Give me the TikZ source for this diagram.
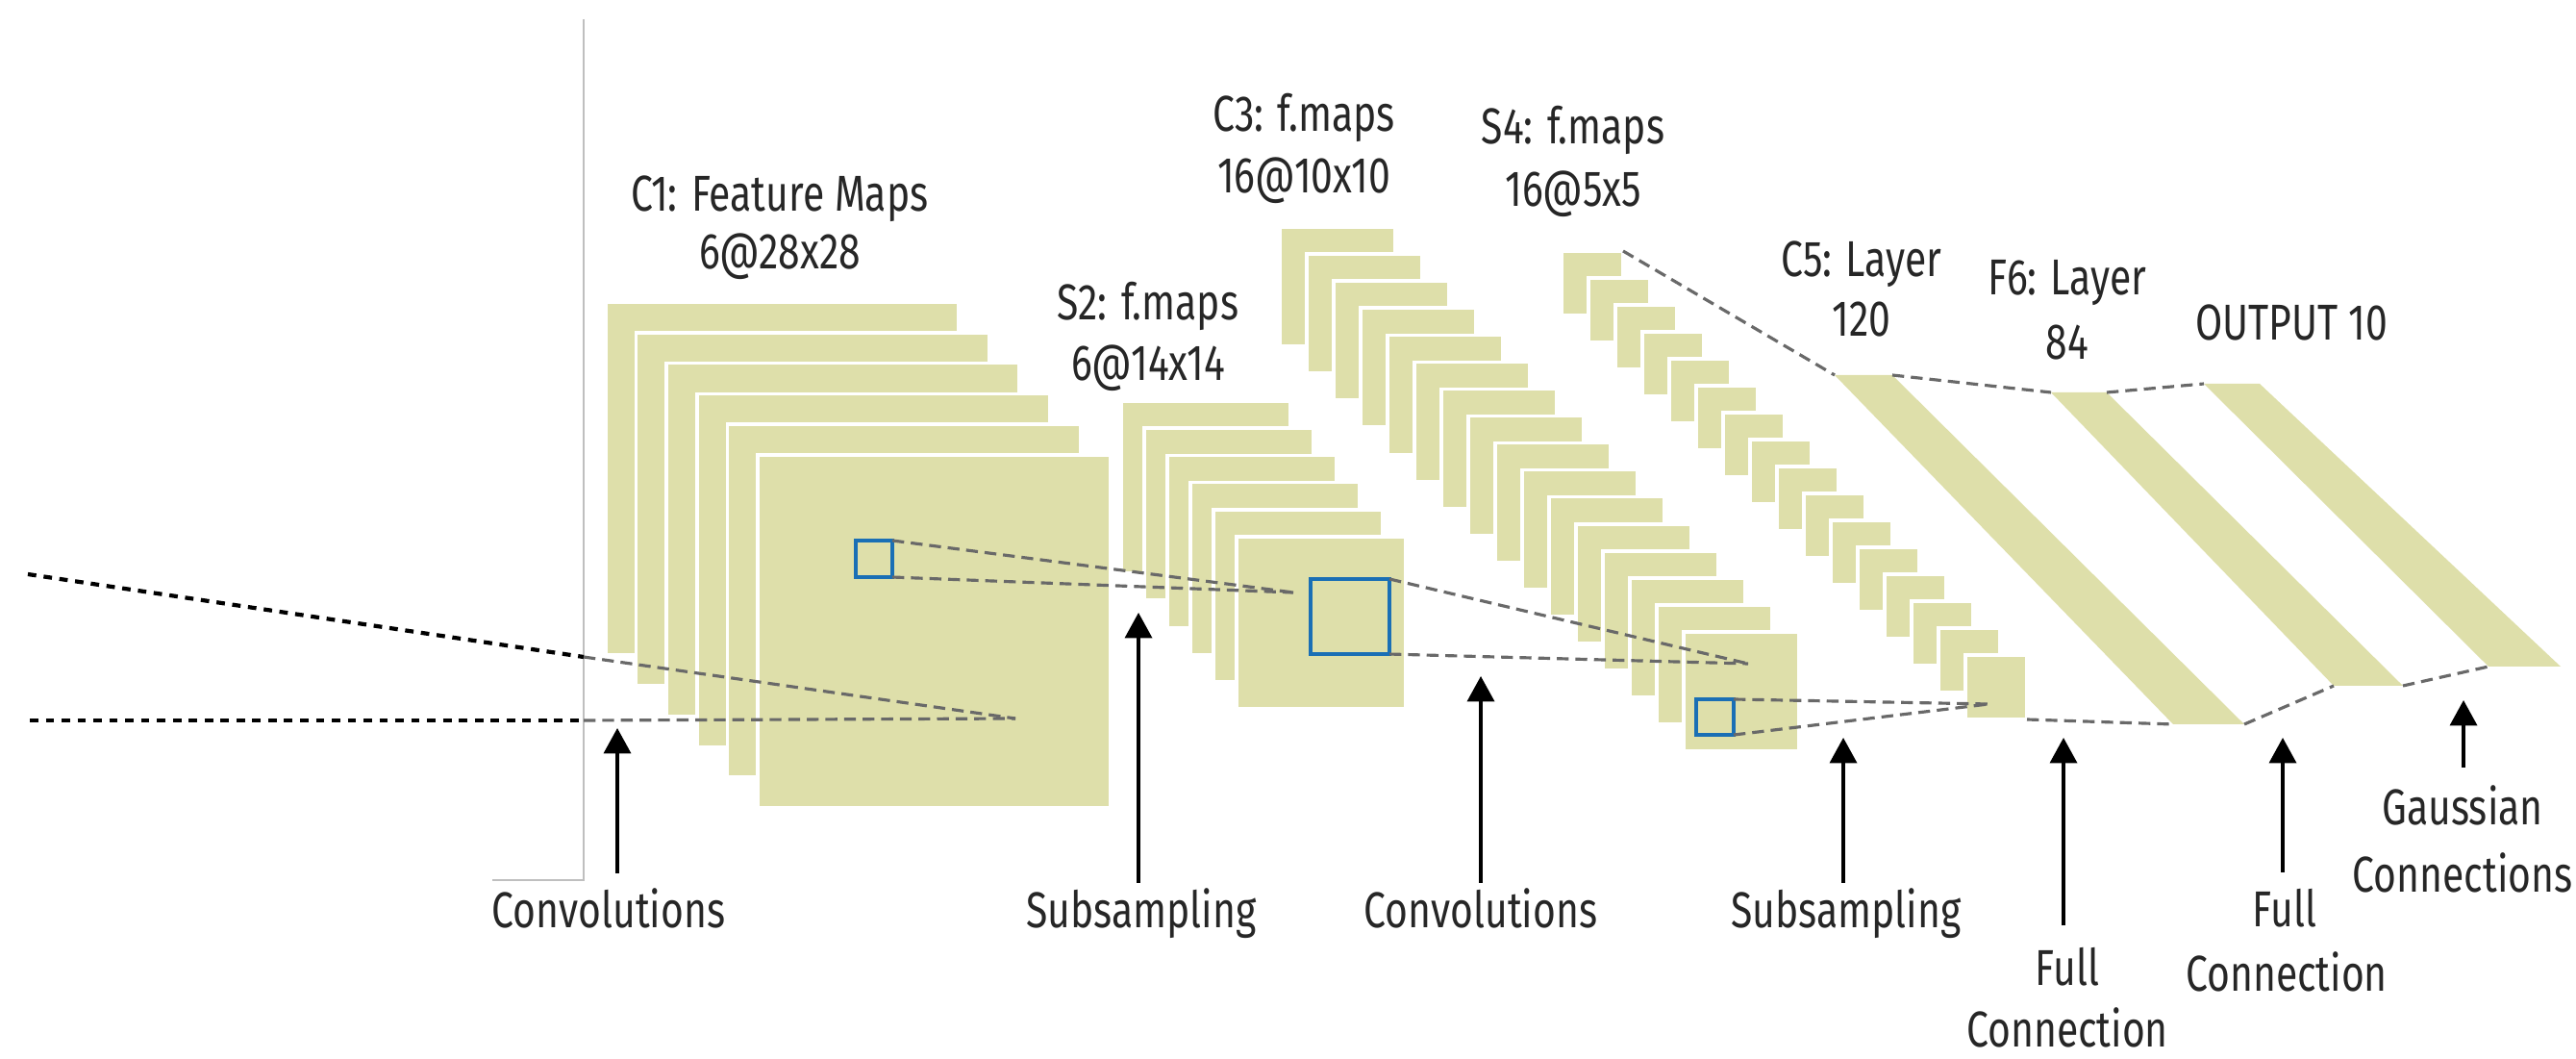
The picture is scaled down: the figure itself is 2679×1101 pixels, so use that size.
\documentclass[tikz,border=0pt]{standalone}
\usepackage{fontspec}
\setmainfont{Fira Sans}[FakeStretch=0.78]
\usetikzlibrary{arrows.meta}
\definecolor{fm}{RGB}{222,223,170}
\definecolor{bsq}{RGB}{26,111,181}
\definecolor{dgray}{RGB}{105,105,105}
\begin{document}
\begin{tikzpicture}[x=0.01cm,y=-0.01cm,
  fmap/.style={fill=fm, draw=white, line width=1pt},
  bluesq/.style={draw=bsq, line width=0.9pt, inner sep=0pt, outer sep=0pt, anchor=north west},
  link/.style={draw=dgray, line width=0.9pt, dash pattern=on 3.5pt off 2pt},
  dots/.style={draw=black, line width=1.2pt, dash pattern=on 2.5pt off 2.2pt},
  uparrow/.style={-{Triangle[width=8pt,length=7.5pt]}, line width=0.9pt},
  lbl/.style={font=\fontsize{14.9}{18}\selectfont, inner sep=0pt, anchor=base, text=black!85},
  axisline/.style={draw=black!25, line width=0.5pt}]

\useasboundingbox (0,0) rectangle (2679,1101);

% frame lines at the left
\coordinate (ax1) at (607,20);
\coordinate (ax2) at (607,915);
\coordinate (ax3) at (512,915);
\draw[axisline] (ax1) -- (ax2) -- (ax3);

% C1 feature maps
\foreach \i in {0,...,5}
  \path[fmap] ({630+31.6*\i},{314+31.8*\i}) rectangle ++(367,367);
% S2 feature maps
\foreach \i in {0,...,5}
  \path[fmap] ({1166+24*\i},{417+28.2*\i}) rectangle ++(176,179);
% C3 feature maps
\foreach \i in {0,...,15}
  \path[fmap] ({1331+28*\i},{236+28.07*\i}) rectangle ++(120,124);
% S4 feature maps
\foreach \i in {0,...,15}
  \path[fmap] ({1624+28*\i},{261+28*\i}) rectangle ++(64,67);

% C5, F6, OUTPUT bands
\coordinate (c5tl) at (1908,390); \coordinate (c5tr) at (1968,390);
\coordinate (c5br) at (2334,753); \coordinate (c5bl) at (2260,753);
\coordinate (f6tl) at (2133,408); \coordinate (f6tr) at (2191,408);
\coordinate (f6br) at (2499,713); \coordinate (f6bl) at (2427,713);
\coordinate (ottl) at (2292,399); \coordinate (ottr) at (2350,399);
\coordinate (otbr) at (2663,693); \coordinate (otbl) at (2588,693);
\fill[fm] (c5tl) -- (c5tr) -- (c5br) -- (c5bl) -- cycle;
\fill[fm] (f6tl) -- (f6tr) -- (f6br) -- (f6bl) -- cycle;
\fill[fm] (ottl) -- (ottr) -- (otbr) -- (otbl) -- cycle;

% blue receptive-field squares
\node[bluesq, minimum width=0.38cm, minimum height=0.38cm] (sq1) at (890,562) {};
\node[bluesq, minimum width=0.82cm, minimum height=0.78cm] (sq2) at (1363,602) {};
\node[bluesq, minimum width=0.39cm, minimum height=0.37cm] (sq3) at (1764,727) {};

% input projection lines
\coordinate (in1) at (29,597);
\coordinate (e1) at (607,683);
\coordinate (in2) at (31,749);
\coordinate (e2) at (607,749);
\coordinate (f1) at (1056,747);
\draw[dots] (in1) -- (e1);
\draw[dots] (in2) -- (e2);
\draw[link] (e1) -- (f1);
\draw[link] (e2) -- (f1);

% receptive-field projections
\coordinate (p2) at (1345,616);
\coordinate (p3) at (1818,690);
\coordinate (p4) at (2068,732);
\draw[link] (sq1.north east) -- (p2);
\draw[link] (sq1.south east) -- (p2);
\draw[link] (sq2.north east) -- (p3);
\draw[link] (sq2.south east) -- (p3);
\draw[link] (sq3.north east) -- (p4);
\draw[link] (sq3.south east) -- (p4);

% full connections
\coordinate (s4tr) at (1688,261);
\coordinate (s4br) at (2108,748);
\draw[link] (s4tr) -- (c5tl);
\draw[link] (s4br) -- (c5bl);
\draw[link] (c5tr) -- (f6tl);
\draw[link] (c5br) -- (f6bl);
\draw[link] (f6tr) -- (ottl);
\draw[link] (f6br) -- (otbl);

% arrows
\coordinate (a1s) at (642,908);  \coordinate (a1t) at (642,757);
\coordinate (a2s) at (1184,918); \coordinate (a2t) at (1184,637);
\coordinate (a3s) at (1540,918); \coordinate (a3t) at (1540,703);
\coordinate (a4s) at (1917,918); \coordinate (a4t) at (1917,767);
\coordinate (a5s) at (2146,962); \coordinate (a5t) at (2146,767);
\coordinate (a6s) at (2374,907); \coordinate (a6t) at (2374,767);
\coordinate (a7s) at (2562,798); \coordinate (a7t) at (2562,728);
\foreach \k in {1,...,7} \draw[uparrow] (a\k s) -- (a\k t);

% top labels
\node[lbl] (t1a) at (811,220) {C1: Feature Maps};
\node[lbl] (t1b) at (811,280) {6@28x28};
\node[lbl] (t2a) at (1194,333) {S2: f.maps};
\node[lbl] (t2b) at (1194,396) {6@14x14};
\node[lbl] (t3a) at (1356,137) {C3: f.maps};
\node[lbl] (t3b) at (1356,201) {16@10x10};
\node[lbl] (t4a) at (1636,150) {S4: f.maps};
\node[lbl] (t4b) at (1636,215) {16@5x5};
\node[lbl] (t5a) at (1936,288) {C5: Layer};
\node[lbl] (t5b) at (1936,350) {120};
\node[lbl] (t6a) at (2150,307) {F6: Layer};
\node[lbl] (t6b) at (2150,374) {84};
\node[lbl] (t7) at (2383,354) {OUTPUT 10};

% bottom labels
\node[lbl] (b1) at (633,965) {Convolutions};
\node[lbl] (b2) at (1187,965) {Subsampling};
\node[lbl] (b3) at (1540,965) {Convolutions};
\node[lbl] (b4) at (1920,965) {Subsampling};
\node[lbl] (b5a) at (2150,1024) {Full};
\node[lbl] (b5b) at (2150,1088) {Connection};
\node[lbl] (b6a) at (2376,963) {Full};
\node[lbl] (b6b) at (2378,1030) {Connection};
\node[lbl] (b7a) at (2561,858) {Gaussian};
\node[lbl] (b7b) at (2561,927) {Connections};
\end{tikzpicture}
\end{document}
